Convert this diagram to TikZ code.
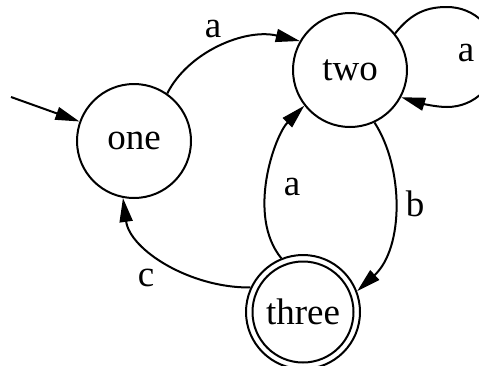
\documentclass[tikz,border=0pt]{standalone}
\usepackage{fontspec}
\setmainfont{Liberation Serif}
\usetikzlibrary{arrows.meta}

\begin{document}
\begin{tikzpicture}[
  x=1pt, y=-1pt,
  state/.style={circle, draw, line width=2pt, minimum size=114pt, inner sep=0pt,
                font=\fontsize{37}{40}\selectfont},
  edge/.style={line width=2pt, -{Triangle[length=24pt, width=13pt]}},
  edgelabel/.style={font=\fontsize{37}{40}\selectfont},
]
  \useasboundingbox (0,0) rectangle (479,365);

  % --- States ---
  \node[state] (one)   at (134,141) {one};
  \node[state] (two)   at (350,70)  {two};
  \node[state] (three) at (303,312) {three};
  \draw[line width=2pt] (three.center) circle[radius=50.5pt];

  \coordinate (start) at (11,97);

  % --- Transitions ---
  \draw[edge] (start) -- (one);
  \draw[edge] (one.55) .. controls (188,52) and (245,28) .. (two.150);
  \draw[edge] (two.39) .. controls (412,12) and (428,7) .. (447,7)
                       .. controls (475,7) and (497,29) .. (497,57)
                       .. controls (497,85) and (475,107) .. (447,107)
                       .. controls (435,107) and (420,103) .. (two.-28);
  \draw[edge] (two.-65) .. controls (404,168) and (404,248) .. (three.21);
  \draw[edge] (three.112) .. controls (246,215) and (275,135) .. (two.218);
  \draw[edge] (three.155) .. controls (190,288) and (130,250) .. (one.259);

  % --- Labels ---
  \node[edgelabel] (la1) at (213,29)  {a};
  \node[edgelabel] (la2) at (466,53)  {a};
  \node[edgelabel] (lb)  at (415,204) {b};
  \node[edgelabel] (la3) at (292,187) {a};
  \node[edgelabel] (lc)  at (146,278) {c};
\end{tikzpicture}
\end{document}
